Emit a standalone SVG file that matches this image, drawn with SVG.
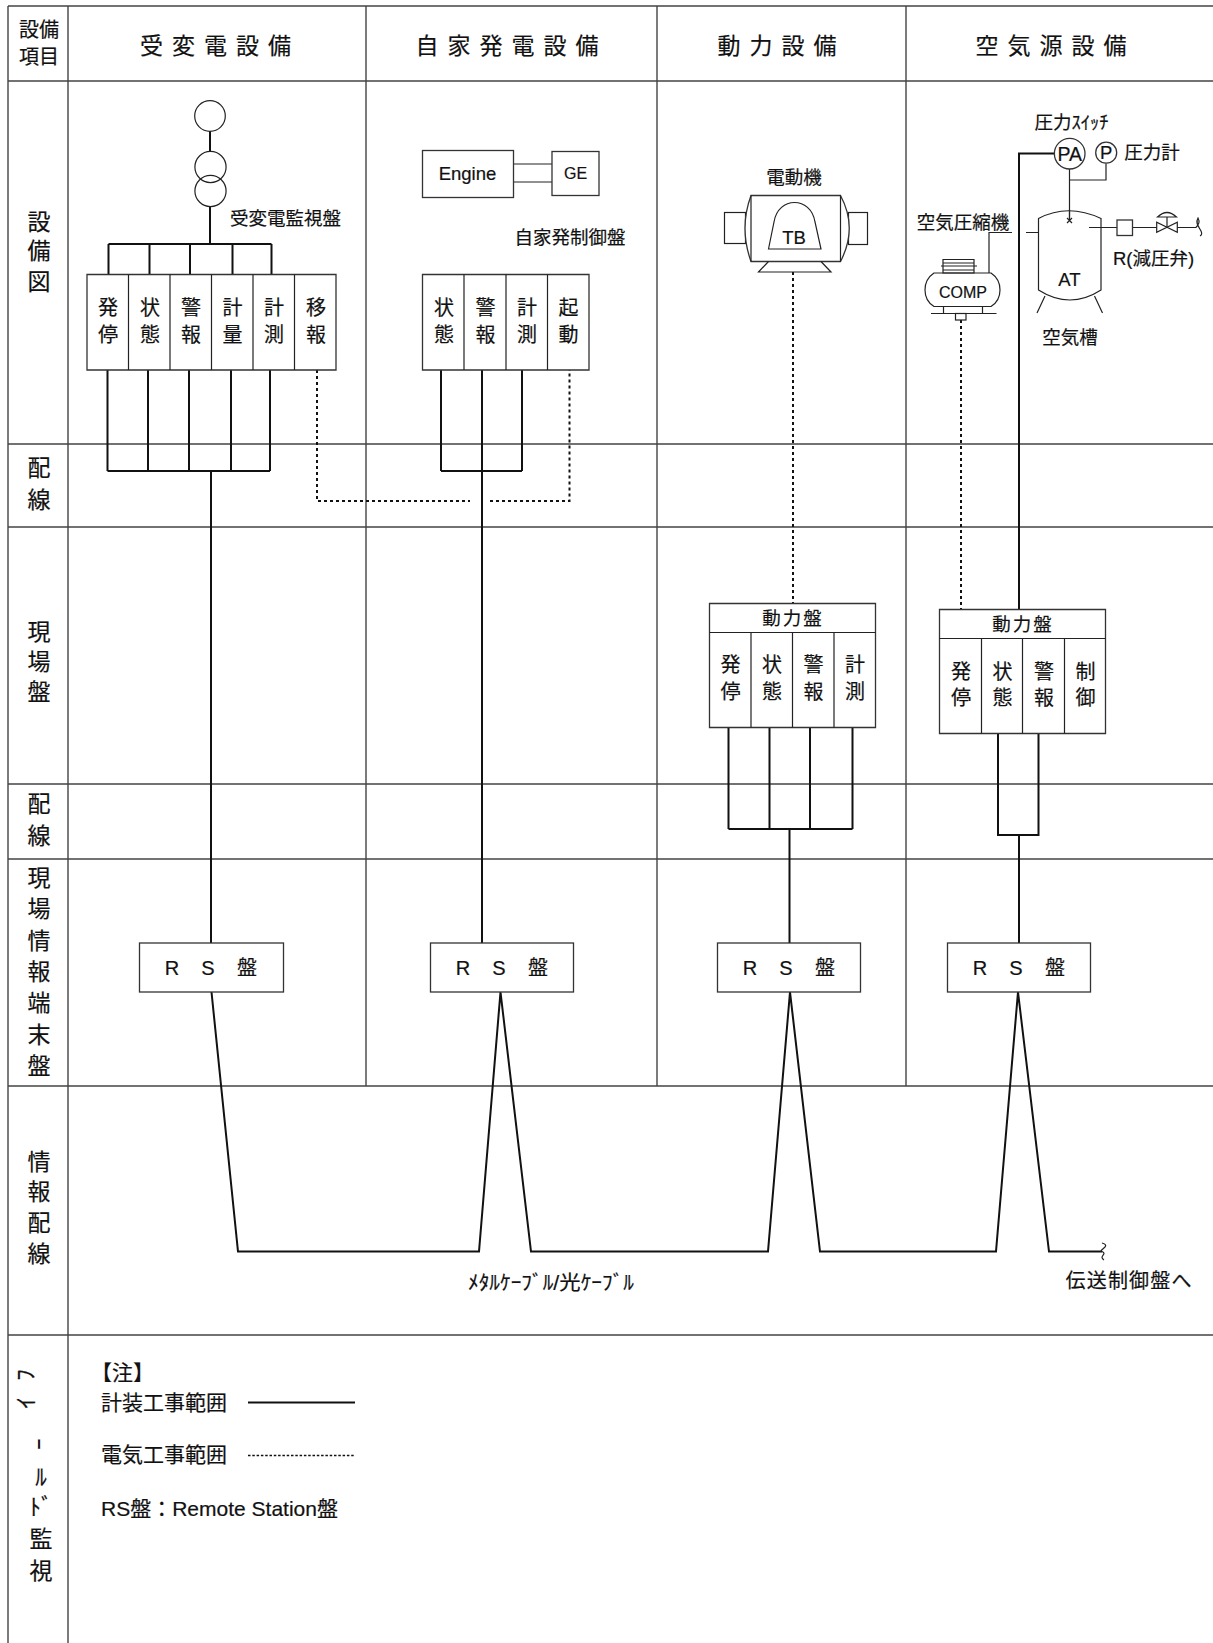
<svg xmlns="http://www.w3.org/2000/svg" width="1213" height="1643" viewBox="0 0 1213 1643">
<style>
text{font-family:"Liberation Sans","Noto Sans CJK JP",sans-serif;fill:#111;stroke:#111;stroke-width:.2;text-anchor:middle;dominant-baseline:central}
.s{font-size:18.500px}.m{font-size:20px}.n{font-size:21px;text-anchor:start}.h{font-size:23px;letter-spacing:9px;text-anchor:start}.v{font-size:23px}
.g{fill:none;stroke:#444;stroke-width:1.4}
.w{fill:none;stroke:#111;stroke-width:2}
.t{fill:none;stroke:#222;stroke-width:1.2}
.b{fill:#fff;stroke:#333;stroke-width:1.3}
.d{fill:none;stroke:#111;stroke-width:2;stroke-dasharray:3 3}
</style>
<rect width="1213" height="1643" fill="#fff"/>
<g id="grid">
<path class="g" d="M8 6H1213M8 81H1213M8 444H1213M8 527H1213M8 784H1213M8 859H1213M8 1086H1213M8 1335H1213M8 6V1643M68 6V1643M366 6V1086M657 6V1086M906 6V1086"/>
</g>
<g id="row-labels">
<text class="m" x="39" y="30">設備</text><text class="m" x="39" y="57">項目</text>
<text class="v" x="39" y="222">設</text><text class="v" x="39" y="251">備</text><text class="v" x="39" y="282">図</text>
<text class="v" x="39" y="468">配</text><text class="v" x="39" y="500">線</text>
<text class="v" x="39" y="632">現</text><text class="v" x="39" y="662">場</text><text class="v" x="39" y="692">盤</text>
<text class="v" x="39" y="804">配</text><text class="v" x="39" y="836">線</text>
<text class="v" x="39" y="878">現</text><text class="v" x="39" y="909">場</text><text class="v" x="39" y="941">情</text><text class="v" x="39" y="972">報</text><text class="v" x="39" y="1003">端</text><text class="v" x="39" y="1035">末</text><text class="v" x="39" y="1066">盤</text>
<text class="v" x="39" y="1162">情</text><text class="v" x="39" y="1192">報</text><text class="v" x="39" y="1223">配</text><text class="v" x="39" y="1254">線</text>
<text class="v" transform="translate(25 1375) rotate(-90)">ﾌ</text><text class="v" transform="translate(26 1403) rotate(-90)">ｲ</text><text class="v" style="stroke-width:0" transform="translate(39 1444) rotate(90)">ｰ</text><text class="v" x="41" y="1477">ﾙ</text><text class="v" x="41" y="1507">ﾄﾞ</text><text class="v" x="41" y="1539">監</text><text class="v" x="41" y="1571">視</text>
</g>
<g id="col-headers">
<text class="h" x="140" y="46">受変電設備</text>
<text class="h" x="415.500" y="46">自家発電設備</text>
<text class="h" x="717.500" y="46">動力設備</text>
<text class="h" x="975.500" y="46">空気源設備</text>
</g>
<g id="connectors">
<path class="w" d="M210 131V151M210 207V244M108.500 244H271.500M108.500 244V274M149.500 244V274M190 244V274M232.500 244V274M271.500 244V274"/>
<path class="w" d="M107.500 370V471M148 370V471M189 370V471M231 370V471M270 370V471M107.500 471H270M211 471V943"/>
<path class="w" d="M441 370V471M482 370V471M522 370V471M441 471H522M482 471V943"/>
<path class="d" d="M317 370V501H470M490 501H569.500V370"/>
<path class="w" d="M728.500 727V829M769.500 727V829M810 727V829M852.500 727V829M728.500 829H852.500M789.500 829V943"/>
<path class="w" d="M998 734V835H1038.500V734M1019 835V943"/>
<path class="d" d="M793 272V603M961 320V610"/>
<path class="w" d="M1054 153.500H1019V610"/>
<path class="w" d="M211.500 992L238 1251.500H479L500.500 992L531 1251.500H768L790 992L820 1251.500H996L1018 992L1049 1251.500H1102"/>
<path class="t" d="M1102 1243C1112 1246 1098 1250 1102 1251.500C1108 1254 1098 1256 1104 1260" stroke-width="1.500"/>
<path class="t" d="M514 164H552M514 182H552M1069.500 169V218M1069.500 180H1106V163.500M989 273V232.500H1012M1026 232.500H1038.500M1089 227.500H1117M1133 227.500H1157M1177 227.500H1196"/>
</g>
<g id="transformer">
<circle class="t" cx="210" cy="116" r="15.300"/><circle class="t" cx="210.500" cy="167" r="15.600"/><circle class="t" cx="210.500" cy="191" r="15.600"/>
<text class="s" x="285.500" y="218">受変電監視盤</text>
</g>
<g id="panel-juhen">
<path class="b" d="M87 274.500H336V370H87Z"/><path class="t" d="M128.500 274.500V370M170 274.500V370M211.500 274.500V370M253 274.500V370M294.500 274.500V370"/>
<text class="m" x="108" y="308">発</text><text class="m" x="108" y="335">停</text>
<text class="m" x="150" y="308">状</text><text class="m" x="150" y="335">態</text>
<text class="m" x="191" y="308">警</text><text class="m" x="191" y="335">報</text>
<text class="m" x="232.500" y="308">計</text><text class="m" x="232.500" y="335">量</text>
<text class="m" x="274" y="308">計</text><text class="m" x="274" y="335">測</text>
<text class="m" x="316" y="308">移</text><text class="m" x="316" y="335">報</text>
</g>
<g id="engine"><rect class="b" x="422.500" y="150.500" width="91" height="47"/><text class="s" x="467.500" y="173">Engine</text></g>
<g id="ge"><rect class="b" x="552" y="151.500" width="47" height="44"/><text class="m" style="font-size:16px" x="575.500" y="173">GE</text></g>
<g id="panel-jika">
<text class="s" x="570" y="237">自家発制御盤</text>
<path class="b" d="M422.500 274.500H589V370H422.500Z"/><path class="t" d="M464 274.500V370M506 274.500V370M547.500 274.500V370"/>
<text class="m" x="444" y="308">状</text><text class="m" x="444" y="335">態</text>
<text class="m" x="485.500" y="308">警</text><text class="m" x="485.500" y="335">報</text>
<text class="m" x="527" y="308">計</text><text class="m" x="527" y="335">測</text>
<text class="m" x="568.500" y="308">起</text><text class="m" x="568.500" y="335">動</text>
</g>
<g id="motor">
<text class="s" x="794" y="177">電動機</text>
<rect class="t" x="724.500" y="212.500" width="21" height="31"/><rect class="t" x="848.500" y="212.500" width="19" height="32"/>
<path class="b" d="M751 195.500H840.500Q858 228 840.500 261.500H751Q739 228 751 195.500Z"/>
<path class="t" d="M751 195.500V261.500M840.500 195.500V261.500M768.500 261.500L758.500 272H831L821 261.500"/>
<path class="t" d="M768.500 249L774 222C778 196 811 196 815 222L821 249Z"/>
<text class="s" x="794" y="237">TB</text>
</g>
<g id="comp">
<text class="s" x="963" y="222">空気圧縮機</text>
<path class="t" d="M943 259.500H974V273H943ZM941 266H977M943 263H974M943 270H974"/>
<path class="t" d="M934 273H991C1003 281 1003 299 991 306.500H934C922 299 922 281 934 273ZM943.500 306.500V313.500M982.500 306.500V313.500M931 313.500H996.500"/>
<rect class="t" x="955.500" y="313.500" width="10.500" height="6.500"/>
<text class="m" style="font-size:16px" x="963" y="292">COMP</text>
</g>
<g id="tank">
<path class="t" d="M1038.500 218.500Q1068 203 1101 218.500V290Q1070 310 1038.500 290Z"/>
<path class="t" d="M1069.500 210V221M1045 296L1037 313M1094.500 296L1102.500 313M1067 218L1072 223M1072 218L1067 223"/>
<text class="s" x="1069.500" y="279">AT</text>
<text class="s" x="1070" y="337">空気槽</text>
</g>
<g id="pa"><circle class="b" cx="1069.700" cy="153.700" r="15.300"/><text class="s" style="font-size:19.500px" x="1069.700" y="153.500">PA</text>
<text class="s" x="1071.500" y="122">圧力ｽｲｯﾁ</text></g>
<g id="p"><circle class="b" cx="1106.200" cy="152.700" r="10.500"/><text class="s" x="1106.200" y="152.500">P</text>
<text class="s" x="1152" y="152.700">圧力計</text></g>
<g id="reducer">
<rect class="b" x="1117" y="220" width="15.500" height="15.500"/>
<path d="M1156.700 222.300V232.300L1177.300 222.300V232.300Z" fill="#fff" stroke="#222" stroke-width="1.200"/>
<path class="t" d="M1167 217V227.500M1157.500 217Q1167 208 1176.500 217ZM1196 227.500C1199 224 1200 222 1198 218C1195 223 1199 227 1201 231C1202 233 1202 235 1200 236"/>
<text class="s" x="1153.500" y="258">R(減圧弁)</text>
</g>
<g id="panel-doryoku1">
<path class="b" d="M709.500 603.500H875.500V727.500H709.500Z"/><path class="t" d="M709.500 632.500H875.500M751 632.500V727.500M792.500 632.500V727.500M834 632.500V727.500"/>
<text class="s" x="793" y="618" style="letter-spacing:2px">動力盤</text>
<text class="m" x="730.500" y="665">発</text><text class="m" x="730.500" y="692">停</text>
<text class="m" x="772" y="665">状</text><text class="m" x="772" y="692">態</text>
<text class="m" x="813.500" y="665">警</text><text class="m" x="813.500" y="692">報</text>
<text class="m" x="855" y="665">計</text><text class="m" x="855" y="692">測</text>
</g>
<g id="panel-doryoku2">
<path class="b" d="M939.500 609.500H1105.500V733.500H939.500Z"/><path class="t" d="M939.500 638.500H1105.500M981.500 638.500V733.500M1022.500 638.500V733.500M1064.500 638.500V733.500"/>
<text class="s" x="1023" y="624" style="letter-spacing:2px">動力盤</text>
<text class="m" x="961" y="671.500">発</text><text class="m" x="961" y="698">停</text>
<text class="m" x="1002.500" y="671.500">状</text><text class="m" x="1002.500" y="698">態</text>
<text class="m" x="1044" y="671.500">警</text><text class="m" x="1044" y="698">報</text>
<text class="m" x="1085.500" y="671.500">制</text><text class="m" x="1085.500" y="698">御</text>
</g>
<g id="rs1"><rect class="b" x="139.500" y="943" width="144" height="49"/><text class="m" y="968"><tspan x="172">R</tspan><tspan x="208">S</tspan><tspan x="247">盤</tspan></text></g>
<g id="rs2"><rect class="b" x="430.500" y="943" width="143" height="49"/><text class="m" y="968"><tspan x="463">R</tspan><tspan x="499">S</tspan><tspan x="538">盤</tspan></text></g>
<g id="rs3"><rect class="b" x="717.500" y="943" width="143" height="49"/><text class="m" y="968"><tspan x="750">R</tspan><tspan x="786">S</tspan><tspan x="825">盤</tspan></text></g>
<g id="rs4"><rect class="b" x="947.500" y="943" width="143" height="49"/><text class="m" y="968"><tspan x="980">R</tspan><tspan x="1016">S</tspan><tspan x="1055">盤</tspan></text></g>
<g id="cable-labels">
<text class="m" x="551" y="1283" textLength="166" lengthAdjust="spacingAndGlyphs">ﾒﾀﾙｹｰﾌﾞﾙ/光ｹｰﾌﾞﾙ</text>
<text class="m" x="1128.500" y="1281" textLength="126">伝送制御盤へ</text>
</g>
<g id="legend">
<text class="n" x="91" y="1372">【注】</text>
<text class="n" x="101" y="1402">計装工事範囲</text>
<path class="w" d="M248 1402.500H355"/>
<text class="n" x="101" y="1454">電気工事範囲</text>
<path d="M248 1455.500H355" fill="none" stroke="#111" stroke-width="1.500" stroke-dasharray="2.500 1.800"/>
<text class="n" x="101" y="1508">RS盤：Remote Station盤</text>
</g>
</svg>
